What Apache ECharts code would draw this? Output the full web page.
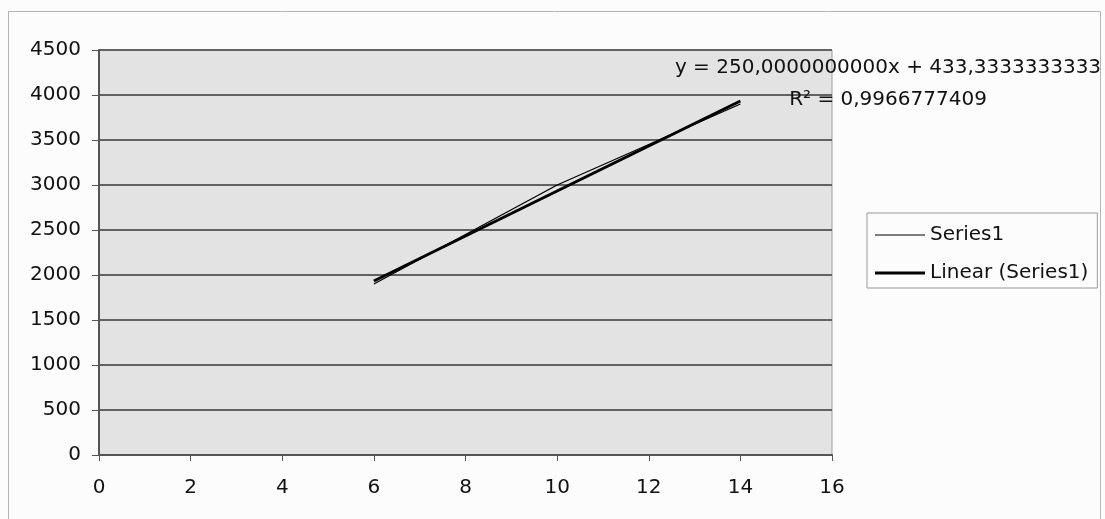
<!DOCTYPE html>
<html>
<head>
<meta charset="utf-8">
<script src="https://cdn.jsdelivr.net/npm/echarts@6/dist/echarts.min.js"></script>
<style>
  html, body { margin: 0; padding: 0; background: #fcfcfc; }
  #chart { width: 1105px; height: 519px; }
</style>
</head>
<body>
<div id="chart"></div>
<script>
// Measured series
const xValues = [6, 10, 14];
const yValues = [1900, 3000, 3900];

// Linear trendline coefficients and fit quality
const trendSlope = [250.0];
const trendIntercept = [433.3333333333];
const rSquared = [0.9966777409];

// Axis settings
const xTicks = [0, 2, 4, 6, 8, 10, 12, 14, 16];
const yTicks = [0, 500, 1000, 1500, 2000, 2500, 3000, 3500, 4000, 4500];

const seriesName = 'Series1';
const trendName = 'Linear (Series1)';

const FONT = 'DejaVu Sans';
const FS = 20;

const seriesData = xValues.map((x, i) => [x, yValues[i]]);
const xMin = Math.min(...xValues);
const xMax = Math.max(...xValues);
const trendData = [xMin, xMax].map(x => [x, trendSlope[0] * x + trendIntercept[0]]);

const fmt = (v, d) => v.toFixed(d).replace('.', ',');
const equationText = 'y = ' + fmt(trendSlope[0], 10) + 'x + ' + fmt(trendIntercept[0], 10);
const r2Text = 'R\u00B2 = ' + fmt(rSquared[0], 10);

const chart = echarts.init(document.getElementById('chart'), null, { renderer: 'canvas' });

chart.setOption({
  backgroundColor: '#fcfcfc',
  animation: false,
  textStyle: { fontFamily: FONT, color: '#000' },
  grid: {
    left: 99, right: 273, top: 50, bottom: 64,
    show: true,
    backgroundColor: '#e3e3e3',
    borderColor: '#a0a0a0',
    borderWidth: 1
  },
  xAxis: {
    type: 'value',
    min: xTicks[0],
    max: xTicks[xTicks.length - 1],
    interval: xTicks[1] - xTicks[0],
    axisLine: { show: true, onZero: false, lineStyle: { color: '#555', width: 2 } },
    axisTick: { show: true, inside: false, length: 6, lineStyle: { color: '#555', width: 1 } },
    axisLabel: { fontFamily: FONT, fontSize: FS, color: '#111', margin: 23, lineHeight: 20, formatter: v => String(v) },
    splitLine: { show: false }
  },
  yAxis: {
    type: 'value',
    min: yTicks[0],
    max: yTicks[yTicks.length - 1],
    interval: yTicks[1] - yTicks[0],
    axisLine: { show: true, onZero: false, lineStyle: { color: '#555', width: 2 } },
    axisTick: { show: true, inside: false, length: 7, lineStyle: { color: '#555', width: 1 } },
    axisLabel: { fontFamily: FONT, fontSize: FS, color: '#111', margin: 18, formatter: v => String(v) },
    splitLine: { show: true, lineStyle: { color: '#626262', width: 2 } }
  },
  legend: {
    orient: 'vertical',
    left: 867,
    top: 213,
    align: 'left',
    padding: [12, 9, 5, 8],
    itemWidth: 50,
    itemHeight: 20,
    itemGap: 18,
    itemTextGap: 3,
    borderColor: '#9a9a9a',
    borderWidth: 1,
    backgroundColor: '#fcfcfc',
    textStyle: { fontFamily: FONT, fontSize: FS, color: '#111' },
    data: [
      { name: seriesName, icon: 'path://M0,0L50,0L50,1L0,1Z' },
      { name: trendName, icon: 'path://M0,0L50,0L50,3L0,3Z' }
    ],
    itemStyle: { color: '#000' }
  },
  graphic: [
    {
      type: 'rect',
      silent: true,
      z: -10,
      shape: { x: 8.5, y: 11.5, width: 1092, height: 530 },
      style: { fill: 'none', stroke: '#b4b4b4', lineWidth: 1 }
    },
    {
      type: 'text',
      x: 888,
      y: 68,
      z: 100,
      style: { text: equationText, font: FS + 'px "DejaVu Sans"', fill: '#111', align: 'center', verticalAlign: 'middle' }
    },
    {
      type: 'text',
      x: 888,
      y: 100,
      z: 100,
      style: { text: r2Text, font: FS + 'px "DejaVu Sans"', fill: '#111', align: 'center', verticalAlign: 'middle' }
    }
  ],
  series: [
    {
      name: trendName,
      type: 'line',
      data: trendData,
      symbol: 'none',
      lineStyle: { color: '#000', width: 3 },
      itemStyle: { color: '#000' },
      z: 3
    },
    {
      name: seriesName,
      type: 'line',
      data: seriesData,
      symbol: 'none',
      lineStyle: { color: '#000', width: 1.3 },
      itemStyle: { color: '#000' },
      z: 4
    }
  ]
});
</script>
</body>
</html>
